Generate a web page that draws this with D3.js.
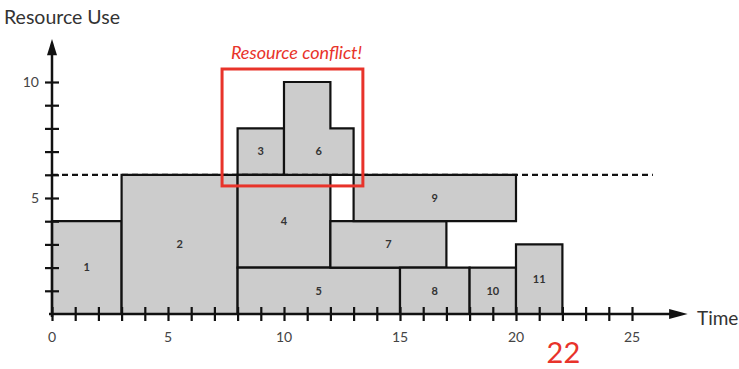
<!DOCTYPE html>
<html><head><meta charset="utf-8">
<script src="https://cdn.jsdelivr.net/npm/d3@7"></script>
<style>body{margin:0;background:#fff}svg{display:block}</style>
</head><body><svg id="c" width="739" height="369"></svg>
<script>
// Data
const taskIds   = ["1","2","3","4","5","6","7","8","9","10","11"];
const taskBase  = [0, 0, 6, 2, 0, 6, 2, 0, 4, 0, 0];
// step profile per task: [start, end, usage]
const taskSteps = [
  [[0,3,4]],
  [[3,8,6]],
  [[8,10,2]],
  [[8,12,4]],
  [[8,15,2]],
  [[10,12,4],[12,13,2]],
  [[12,17,2]],
  [[15,18,2]],
  [[13,20,2]],
  [[18,20,2]],
  [[20,22,3]]
];
const labelPos = [[1.5,2],[5.5,3],[9,7],[10,4],[11.5,1],[11.5,7],[14.5,3],[16.5,1],[16.5,5],[19,1],[21,1.5]];
const xTicks = d3.range(0,26);
const xTickLabels = [0,5,10,15,20,25];
const yTicks = d3.range(1,11);
const yTickLabels = [5,10];
const capacity = 6;
const conflictBox = [7.33, 13.4, 5.52, 10.56]; // x0,x1,y0,y1
const conflictText = "Resource conflict!";
const makespan = "22";

const svg = d3.select("#c");
const x = d3.scaleLinear().domain([0,25]).range([52,632]);
const y = d3.scaleLinear().domain([0,10]).range([314,82]);
const font = "Lato, 'Open Sans', sans-serif";

// tasks
taskSteps.forEach((steps,i)=>{
  const b = taskBase[i];
  const pts = [[steps[0][0], b],[steps[steps.length-1][1], b]];
  for (let k=steps.length-1;k>=0;k--){
    pts.push([steps[k][1], b+steps[k][2]]);
    pts.push([steps[k][0], b+steps[k][2]]);
  }
  svg.append("path")
    .attr("d", d3.line().x(d=>x(d[0])).y(d=>y(d[1]))(pts)+"Z")
    .attr("fill","#cccccc").attr("stroke","#111").attr("stroke-width",2.2)
    .attr("stroke-linejoin","miter");
  svg.append("text").attr("x",x(labelPos[i][0])).attr("y",y(labelPos[i][1]))
    .attr("dy","0.35em").attr("text-anchor","middle")
    .attr("font-family",font).attr("font-size",11).attr("font-weight","bold").attr("fill","#333")
    .text(taskIds[i]);
});

// capacity dashed line
svg.append("line").attr("x1",x(0)).attr("x2",x(25.9)).attr("y1",y(capacity)).attr("y2",y(capacity))
  .attr("stroke","#111").attr("stroke-width",2.2).attr("stroke-dasharray","6,4");

// x axis
const xAxisG = svg.append("g").attr("transform",`translate(0,${y(0)})`)
  .call(d3.axisBottom(x).tickValues(xTicks).tickSize(7).tickFormat(""));
xAxisG.select(".domain").remove();
xAxisG.selectAll(".tick line").attr("y1",-7).attr("y2",7).attr("stroke","#111").attr("stroke-width",2.2);
svg.append("line").attr("x1",x(0)-3).attr("x2",x(26.8)).attr("y1",y(0)).attr("y2",y(0))
  .attr("stroke","#111").attr("stroke-width",2.5);
svg.append("path").attr("d",`M${x(27.4)},${y(0)} L${x(26.6)},${y(0)-5} L${x(26.6)},${y(0)+5} Z`).attr("fill","#111");
xTickLabels.forEach(v=>{
  svg.append("text").attr("x",x(v)).attr("y",y(0)+28).attr("text-anchor","middle")
    .attr("font-family",font).attr("font-size",14).attr("fill","#444").text(v);
});
svg.append("text").attr("x",697).attr("y",y(0)+11).attr("font-family",font).attr("font-size",19)
  .attr("fill","#333").text("Time");

// y axis
const yAxisG = svg.append("g").attr("transform",`translate(${x(0)},0)`)
  .call(d3.axisLeft(y).tickValues(yTicks).tickSize(7).tickFormat(""));
yAxisG.select(".domain").remove();
yAxisG.selectAll(".tick line").attr("x1",-7).attr("x2",7).attr("stroke","#111").attr("stroke-width",2.2);
svg.append("line").attr("x1",x(0)).attr("x2",x(0)).attr("y1",y(0)+3).attr("y2",y(11.3))
  .attr("stroke","#111").attr("stroke-width",2.5);
svg.append("path").attr("d",`M${x(0)},${y(11.85)} L${x(0)-5},${y(11.15)} L${x(0)+5},${y(11.15)} Z`).attr("fill","#111");
yTickLabels.forEach(v=>{
  svg.append("text").attr("x",x(0)-13).attr("y",y(v)).attr("dy","0.35em").attr("text-anchor","end")
    .attr("font-family",font).attr("font-size",14).attr("fill","#444").text(v);
});
svg.append("text").attr("x",4).attr("y",24).attr("font-family",font).attr("font-size",19.5)
  .attr("fill","#333").text("Resource Use");

// conflict box
svg.append("rect").attr("x",x(conflictBox[0])).attr("y",y(conflictBox[3]))
  .attr("width",x(conflictBox[1])-x(conflictBox[0])).attr("height",y(conflictBox[2])-y(conflictBox[3]))
  .attr("fill","none").attr("stroke","#e8332a").attr("stroke-width",3);
svg.append("text").attr("x",(x(conflictBox[0])+x(conflictBox[1]))/2+4).attr("y",59)
  .attr("text-anchor","middle").attr("font-family",font).attr("font-style","italic")
  .attr("font-size",18).attr("fill","#e8332a").text(conflictText);
svg.append("text").attr("x",x(22)+1).attr("y",363).attr("text-anchor","middle")
  .attr("font-family",font).attr("font-size",29).attr("fill","#e8332a").text(makespan);
</script></body></html>
